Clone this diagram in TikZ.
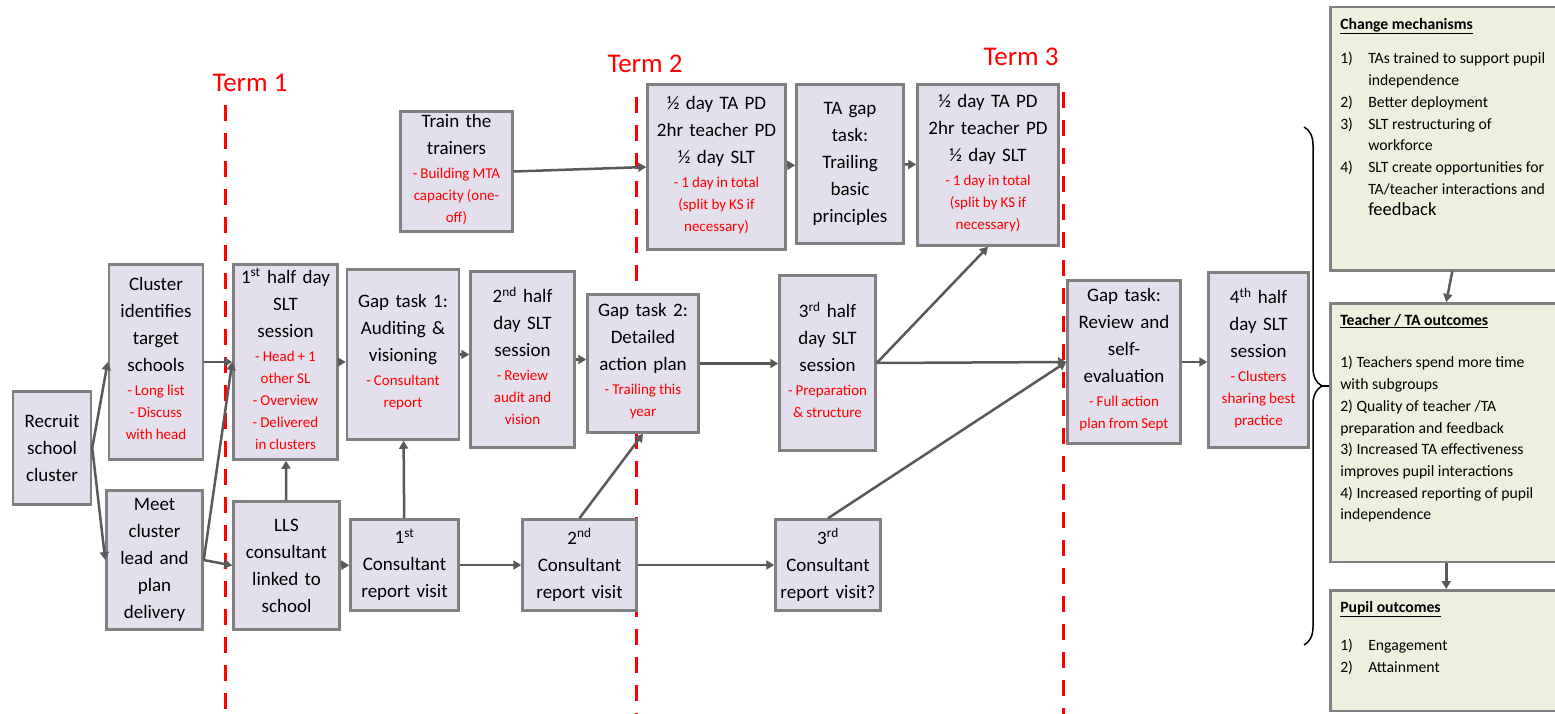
\documentclass[tikz,border=0pt]{standalone}
\usepackage{fontspec}
\setmainfont{Carlito}
\usetikzlibrary{arrows.meta,decorations.pathreplacing}
\definecolor{boxfill}{HTML}{E4DFEC}
\definecolor{boxline}{HTML}{808080}
\definecolor{arrowgray}{HTML}{595959}
\definecolor{outfill}{HTML}{EBF1DE}
\definecolor{termred}{HTML}{FF0000}
\newcommand{\tightspace}{\spaceskip=0.2em plus 0.06em minus 0.03em\relax}
\newcommand{\rednote}[1]{\\[-3pt]{\fontsize{15}{22}\selectfont\tightspace\color{termred}\begin{tabular}[t]{@{}c@{}}#1\end{tabular}}}
\newcommand{\numitem}[2]{\par\hangindent=28pt\hangafter=1\noindent\makebox[28pt][l]{#1}#2}
\begin{document}
\begin{tikzpicture}[x=1pt, y=-1pt,
    box/.style={draw=boxline, fill=boxfill, line width=2.5pt, align=center,
        inner xsep=3pt, inner ysep=2pt, font=\fontsize{19}{27}\selectfont\tightspace},
    outcome/.style={draw=boxline, fill=outfill, line width=2.5pt, anchor=north west,
        inner xsep=10pt, inner ysep=11pt, font=\fontsize{15.7}{21.7}\selectfont},
    flow/.style={draw=arrowgray, line width=2.5pt, -{Triangle[length=8pt,width=9pt]}},
    termline/.style={draw=termred, line width=3pt, dash pattern=on 16pt off 12pt},
    termlabel/.style={text=termred, font=\fontsize{27}{32}\selectfont}
]
\useasboundingbox (0,0) rectangle (1555,714);

\node[termlabel] (term1) at (250,83) {Term 1};
\node[termlabel] (term2) at (645,64) {Term 2};
\node[termlabel] (term3) at (1021,57) {Term 3};
\draw[termline] (225,105) -- (225,714);
\draw[termline] (636,97) -- (636,714);
\draw[termline] (1063,92) -- (1063,714);

\node[box, text width=72pt, minimum height=113pt] (recruit) at (52,448) {Recruit\\school\\cluster};
\node[box, text width=88pt, minimum height=195pt] (identify) at (156,362)
    {Cluster\\identifies\\target\\schools\rednote{- Long list\\- Discuss\\with head}};
\node[box, text width=90pt, minimum height=139pt] (meet) at (154.5,560) {Meet\\cluster\\lead and\\plan\\delivery};
\node[box, text width=98pt, minimum height=195pt] (half1) at (285.5,362)
    {1\textsuperscript{st} half day\\SLT\\session\rednote{- Head + 1\\other SL\\- Overview\\- Delivered\\in clusters}};
\node[box, text width=100pt, minimum height=128pt] (lls) at (286.5,565.5) {LLS\\consultant\\linked to\\school};
\node[box, text width=106pt, minimum height=170pt] (gap1) at (403,354.5)
    {Gap task 1:\\Auditing \&\\visioning\rednote{- Consultant\\report}};
\node[box, text width=98pt, minimum height=176pt] (half2) at (522.5,359.5)
    {2\textsuperscript{nd} half\\day SLT\\session\rednote{- Review\\audit and\\vision}};
\node[box, text width=105pt, minimum height=138pt] (gap2) at (643,363.5)
    {Gap task 2:\\Detailed\\action plan\rednote{- Trailing this\\year}};
\node[box, text width=102pt, minimum height=91pt] (visit1) at (404.5,565) {1\textsuperscript{st}\\Consultant\\report visit};
\node[box, text width=108pt, minimum height=91pt] (visit2) at (579.5,565) {2\textsuperscript{nd}\\Consultant\\report visit};
\node[box, text width=99pt, minimum height=91pt] (visit3) at (828,565) {3\textsuperscript{rd}\\Consultant\\report visit?};
\node[box, text width=106pt, minimum height=120pt] (trainers) at (456.5,171.5)
    {Train the\\trainers\rednote{- Building MTA\\capacity (one-\\off)}};
\node[box, text width=132pt, minimum height=165pt] (pdA) at (716.5,167)
    {½ day TA PD\\2hr teacher PD\\½ day SLT\rednote{- 1 day in total\\(split by KS if\\necessary)}};
\node[box, text width=101pt, minimum height=159pt] (tagap) at (850,164) {TA gap\\task:\\Trailing\\basic\\principles};
\node[box, text width=135pt, minimum height=161pt] (pdB) at (988,165)
    {½ day TA PD\\2hr teacher PD\\½ day SLT\rednote{- 1 day in total\\(split by KS if\\necessary)}};
\node[box, text width=90pt, minimum height=175pt] (half3) at (827.5,363)
    {3\textsuperscript{rd} half\\day SLT\\session\rednote{- Preparation\\\& structure}};
\node[box, text width=107pt, minimum height=163pt] (review) at (1124,362)
    {Gap task:\\Review and\\self-\\evaluation\rednote{- Full action\\plan from Sept}};
\node[box, text width=94pt, minimum height=175pt] (half4) at (1258.5,360)
    {4\textsuperscript{th} half\\day SLT\\session\rednote{- Clusters\\sharing best\\practice}};

\node[outcome] (mech) at (1329,6) {\parbox[t][241pt][t]{212pt}{\raggedright
    \underline{\textbf{Change mechanisms}}\par\vspace{13pt}
    \numitem{1)}{TAs trained to support pupil\newline independence}
    \numitem{2)}{Better deployment}
    \numitem{3)}{SLT restructuring of\newline workforce}
    \numitem{4)}{SLT create opportunities for\newline TA/teacher interactions and\newline {\fontsize{18.5}{25}\selectfont feedback}}}};
\node[outcome] (teacher) at (1329,302) {\parbox[t][236.5pt][t]{212pt}{\raggedright
    \underline{\textbf{Teacher / TA outcomes}}\par\vspace{21pt}
    1) Teachers spend more time\\with subgroups\\2) Quality of teacher /TA\\preparation and feedback\\
    3) Increased TA effectiveness\\improves pupil interactions\\4) Increased reporting of pupil\\independence}};
\node[outcome] (pupil) at (1329,589) {\parbox[t][98.5pt][t]{212pt}{\raggedright
    \underline{\textbf{Pupil outcomes}}\par\vspace{17pt}
    \numitem{1)}{Engagement}
    \numitem{2)}{Attainment}}};

\draw[flow] (recruit.east) -- (identify.west);
\draw[flow] (recruit.east) -- (meet.west);
\draw[flow] (identify.east) -- (half1.west);
\draw[flow] (meet.east) -- (half1.west);
\draw[flow] (meet.east) -- (lls.west);
\draw[flow] (lls) -- (half1);
\draw[flow] (lls) -- (visit1);
\draw[flow] (visit1) -- (gap1);
\draw[flow] (half1.east) -- (half1.east -| gap1.west);
\draw[flow] (gap1.east) -- (gap1.east -| half2.west);
\draw[flow] (half2.east) -- (half2.east -| gap2.west);
\draw[flow] (gap2.east) -- (gap2.east -| half3.west);
\draw[flow] (visit1) -- (visit2);
\draw[flow] (visit2.north) -- (gap2.south);
\draw[flow] (visit2) -- (visit3);
\draw[flow] (trainers.east) -- (pdA.west);
\draw[flow] (pdA) -- (tagap);
\draw[flow] (tagap) -- (pdB);
\draw[flow] (half3.east) -- (review.west);
\draw[flow] (half3.east) -- (pdB.south);
\draw[flow] (visit3.north) -- (review.west);
\draw[flow] (review.east) -- (review.east -| half4.west);
\draw[flow] ([xshift=6pt]mech.south) -- (teacher.north);
\draw[flow] (teacher) -- (pupil);

\coordinate (bracetop) at (1304,127);
\coordinate (bracebot) at (1304,645);
\coordinate (bracetip) at (1322,386);
\draw[line width=1.5pt, decorate, decoration={brace, amplitude=18pt}] (bracetop) -- (bracebot);
\draw[line width=1.5pt] (bracetip) -- (bracetip -| teacher.west);
\end{tikzpicture}
\end{document}
